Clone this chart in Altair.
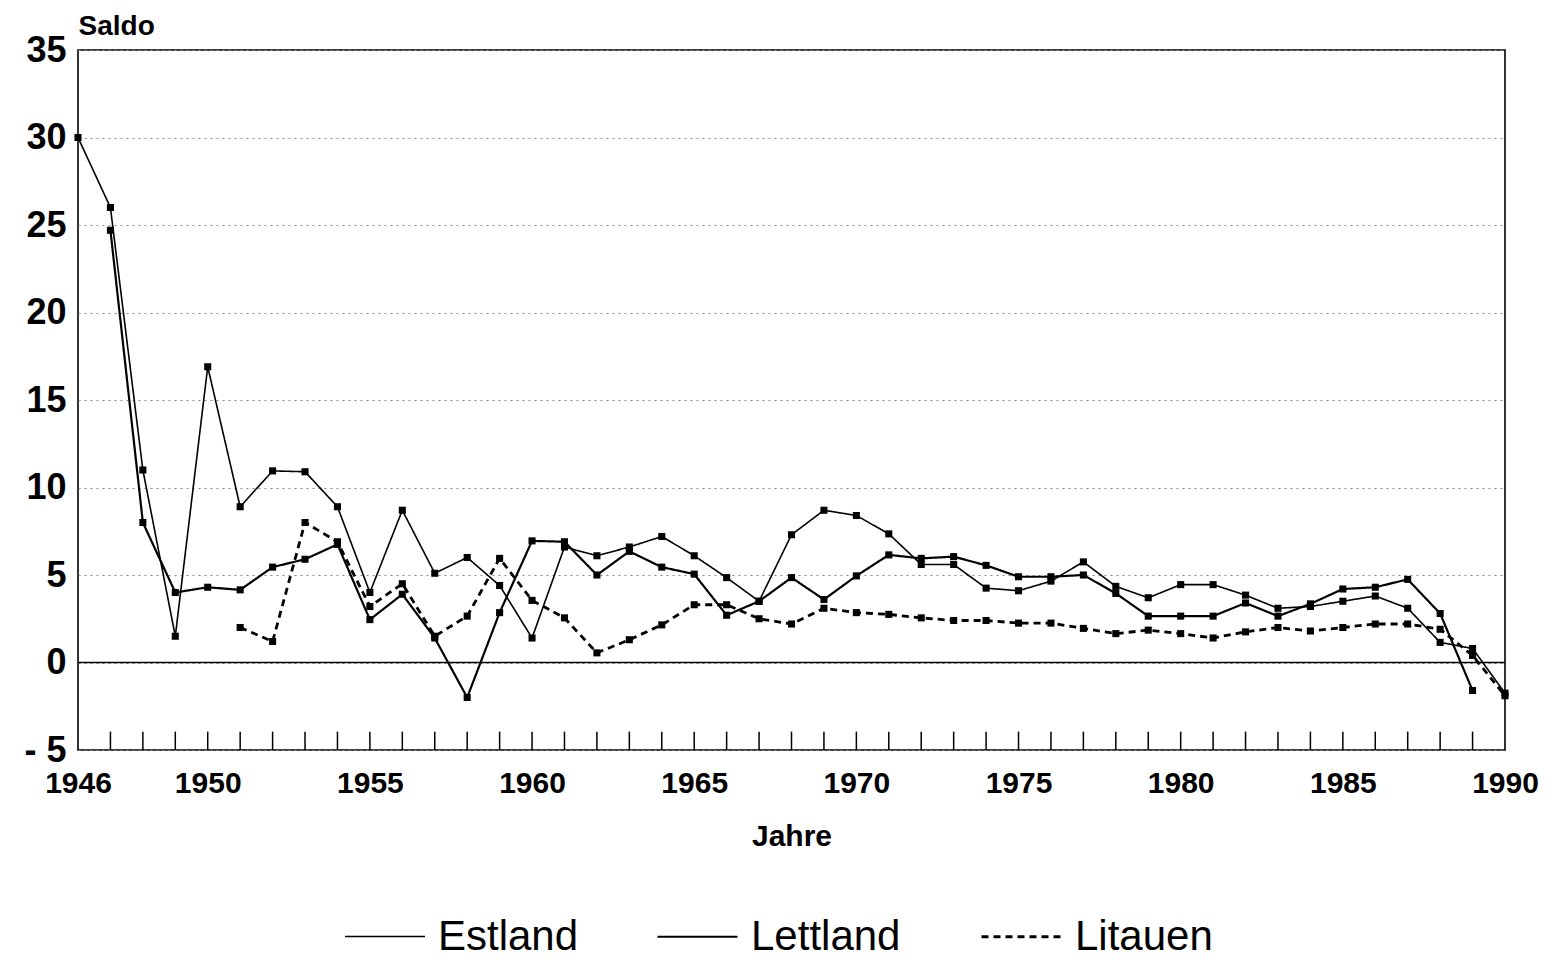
import altair as alt
import pandas as pd

years = list(range(1946, 1991))

estland = [30.0, 26.0, 11.0, 1.5, 16.9, 8.9, 10.95, 10.9, 8.9, 4.0,
           8.7, 5.1, 6.0, 4.4, 1.4, 6.6, 6.1, 6.6, 7.2, 6.1,
           4.85, 3.5, 7.3, 8.7, 8.4, 7.35, 5.6, 5.6, 4.25, 4.1,
           4.65, 5.75, 4.35, 3.7, 4.45, 4.45, 3.85, 3.1, 3.2, 3.5,
           3.8, 3.1, 1.15, 0.8, -1.75]

lettland = [None, 24.7, 8.0, 4.0, 4.3, 4.15, 5.45, 5.9, 6.75, 2.45,
            3.9, 1.4, -2.0, 2.85, 6.95, 6.9, 5.0, 6.35, 5.45, 5.05,
            2.7, 3.5, 4.85, 3.6, 4.95, 6.15, 5.95, 6.05, 5.55, 4.9,
            4.9, 5.0, 3.95, 2.65, 2.65, 2.65, 3.4, 2.65, 3.35, 4.2,
            4.3, 4.75, 2.8, -1.6, None]

litauen = [None, None, None, None, None, 2.0, 1.2, 8.0, 6.9, 3.2,
           4.5, 1.5, 2.65, 5.95, 3.55, 2.55, 0.55, 1.3, 2.15, 3.3,
           3.3, 2.5, 2.2, 3.1, 2.85, 2.75, 2.55, 2.4, 2.4, 2.25,
           2.25, 1.95, 1.65, 1.85, 1.65, 1.4, 1.75, 2.0, 1.8, 2.0,
           2.2, 2.2, 1.9, 0.4, -1.9]

series_names = ["Estland", "Lettland", "Litauen"]
x_label_years = [1946, 1950, 1955, 1960, 1965, 1970, 1975, 1980, 1985, 1990]
y_tick_values = [-5, 0, 5, 10, 15, 20, 25, 30, 35]
tick_years = list(range(1947, 1990))

rows = []
for name, vals in zip(series_names, [estland, lettland, litauen]):
    for yr, v in zip(years, vals):
        if v is not None:
            rows.append({"Jahr": yr, "Saldo": v, "Land": name})
df = pd.DataFrame(rows)
zero_df = pd.DataFrame({"v": [0]})
tick_df = pd.DataFrame({"Jahr": tick_years})

FONT = "Liberation Sans"
xscale = alt.Scale(domain=[1946, 1990], nice=False, zero=False)
yscale = alt.Scale(domain=[-5, 35], nice=False, zero=False)

legend = alt.Legend(
    title=None, orient="none", legendX=266, legendY=845, direction="horizontal",
    symbolType="stroke", symbolSize=6400, symbolStrokeColor="black",
    labelFont=FONT, labelFontSize=42, labelColor="black", labelOffset=12,
    columnPadding=74, labelLimit=0,
)

lines = alt.Chart(df).mark_line(color="black").encode(
    x=alt.X("Jahr:Q", scale=xscale, axis=alt.Axis(
        values=x_label_years, format="d", title="Jahre", ticks=False, domain=False,
        grid=False, labelFlush=False, labelFont=FONT, labelFontSize=30,
        labelFontWeight="bold", labelColor="black", labelPadding=18,
        titleFont=FONT, titleFontSize=30, titleFontWeight="bold",
        titleColor="black", titleY=86, titleBaseline="middle")),
    y=alt.Y("Saldo:Q", scale=yscale, axis=alt.Axis(
        values=y_tick_values, title="Saldo", titleAngle=0, titleX=0, titleY=-16,
        titleAlign="left", titleBaseline="alphabetic", titleFont=FONT,
        titleFontSize=28, titleFontWeight="bold", titleColor="black",
        grid=True, gridDash=[2, 4], gridColor="#8a8a8a", gridWidth=1,
        domain=False, ticks=False, labelFont=FONT, labelFontSize=36,
        labelFontWeight="bold", labelColor="black", labelPadding=12,
        labelExpr="datum.value < 0 ? '- ' + abs(datum.value) : datum.label")),
    strokeDash=alt.StrokeDash("Land:N", scale=alt.Scale(domain=series_names,
                              range=[[1, 0], [1, 0], [7, 5]]), legend=legend),
    strokeWidth=alt.StrokeWidth("Land:N", scale=alt.Scale(domain=series_names,
                                range=[1.6, 2.8, 1.5]), legend=legend),
    detail="Land:N",
)

points = alt.Chart(df).mark_square(size=50, color="black", opacity=1, filled=True).encode(
    x=alt.X("Jahr:Q", scale=xscale),
    y=alt.Y("Saldo:Q", scale=yscale),
    detail="Land:N",
)

zero_rule = alt.Chart(zero_df).mark_rule(color="black", strokeWidth=1.6).encode(
    y=alt.Y("v:Q", scale=yscale),
)

year_ticks = alt.Chart(tick_df).mark_rule(color="black", strokeWidth=1.5).encode(
    x=alt.X("Jahr:Q", scale=xscale),
    y=alt.datum(-5),
    y2=alt.datum(-3.95),
)

chart = alt.layer(lines, zero_rule, year_ticks, points).properties(
    width=1427, height=700,
    padding={"left": 70, "top": 42, "right": 39, "bottom": 212},
    autosize=alt.AutoSizeParams(type="none"),
    background="white",
).configure_view(stroke="black", strokeWidth=1.6)

chart.save("out.html", embed_options={"renderer": "svg", "actions": False})
